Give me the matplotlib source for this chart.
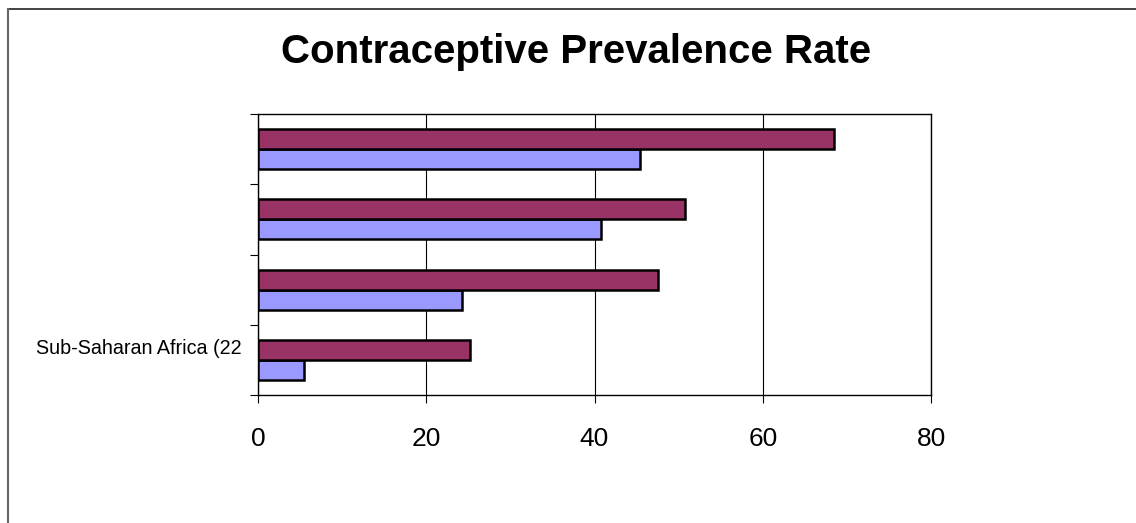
import matplotlib
matplotlib.use("Agg")
import matplotlib.pyplot as plt
import matplotlib.transforms as mtransforms
from matplotlib.lines import Line2D
import numpy as np

# Regions from bottom to top; only the first one carries a printed label
categories = ["Sub-Saharan Africa (22", "", "", ""]
series_a = [5.5, 24.2, 40.8, 45.4]     # lower bar of each pair
series_b = [25.2, 47.5, 50.8, 68.5]    # upper bar of each pair
x_ticks = [0, 20, 40, 60, 80]
title = "Contraceptive Prevalence Rate"

color_a = "#9999FF"
color_b = "#993366"

W, H = 1136, 523
fig = plt.figure(figsize=(W / 100, H / 100), dpi=100)
fig.patch.set_facecolor("white")

# plot area in pixel coordinates
left, right, top, bottom = 258, 931, 114, 395
ax = fig.add_axes([left / W, 1 - bottom / H, (right - left) / W, (bottom - top) / H])

y = np.arange(len(categories))
bh = 0.284
ax.barh(y - bh / 2, series_a, height=bh, color=color_a, edgecolor="black",
        linewidth=1.8, zorder=3)
ax.barh(y + bh / 2, series_b, height=bh, color=color_b, edgecolor="black",
        linewidth=1.8, zorder=3)

ax.set_xlim(0, 80)
ax.set_ylim(-0.5, len(categories) - 0.5)

# vertical gridlines
ax.set_xticks(x_ticks)
ax.xaxis.grid(True, color="black", linewidth=0.8, zorder=1)
ax.set_axisbelow(True)
ax.tick_params(axis="x", length=6, width=0.8, pad=17, color="black")
ax.set_xticklabels([str(v) for v in x_ticks], family="Liberation Sans",
                   fontsize=19)

# category labels at centres, tick marks at boundaries
ax.set_yticks(y)
ax.set_yticklabels(categories, family="Liberation Sans", fontsize=14.2)
ax.tick_params(axis="y", which="major", length=0, pad=12)
ax.set_yticks(np.arange(-0.5, len(categories)), minor=True)
ax.tick_params(axis="y", which="minor", length=6, width=0.8, color="black")
offset = mtransforms.ScaledTranslation(0, 13 / 100, fig.dpi_scale_trans)
for lab in ax.get_yticklabels():
    lab.set_transform(lab.get_transform() + offset)

for s in ax.spines.values():
    s.set_color("black")
    s.set_linewidth(1.0)

fig.text(576 / W, 1 - 52 / H, title, ha="center", va="center",
         family="Liberation Sans", fontweight="bold", fontsize=29)

# outer frame lines of the chart object
fig.add_artist(Line2D([8 / W, 1], [1 - 9 / H, 1 - 9 / H], transform=fig.transFigure,
                      color="#222222", linewidth=1.2))
fig.add_artist(Line2D([8 / W, 8 / W], [0, 1 - 9 / H], transform=fig.transFigure,
                      color="#666666", linewidth=1.5))

fig.savefig("out.png", dpi=100)
